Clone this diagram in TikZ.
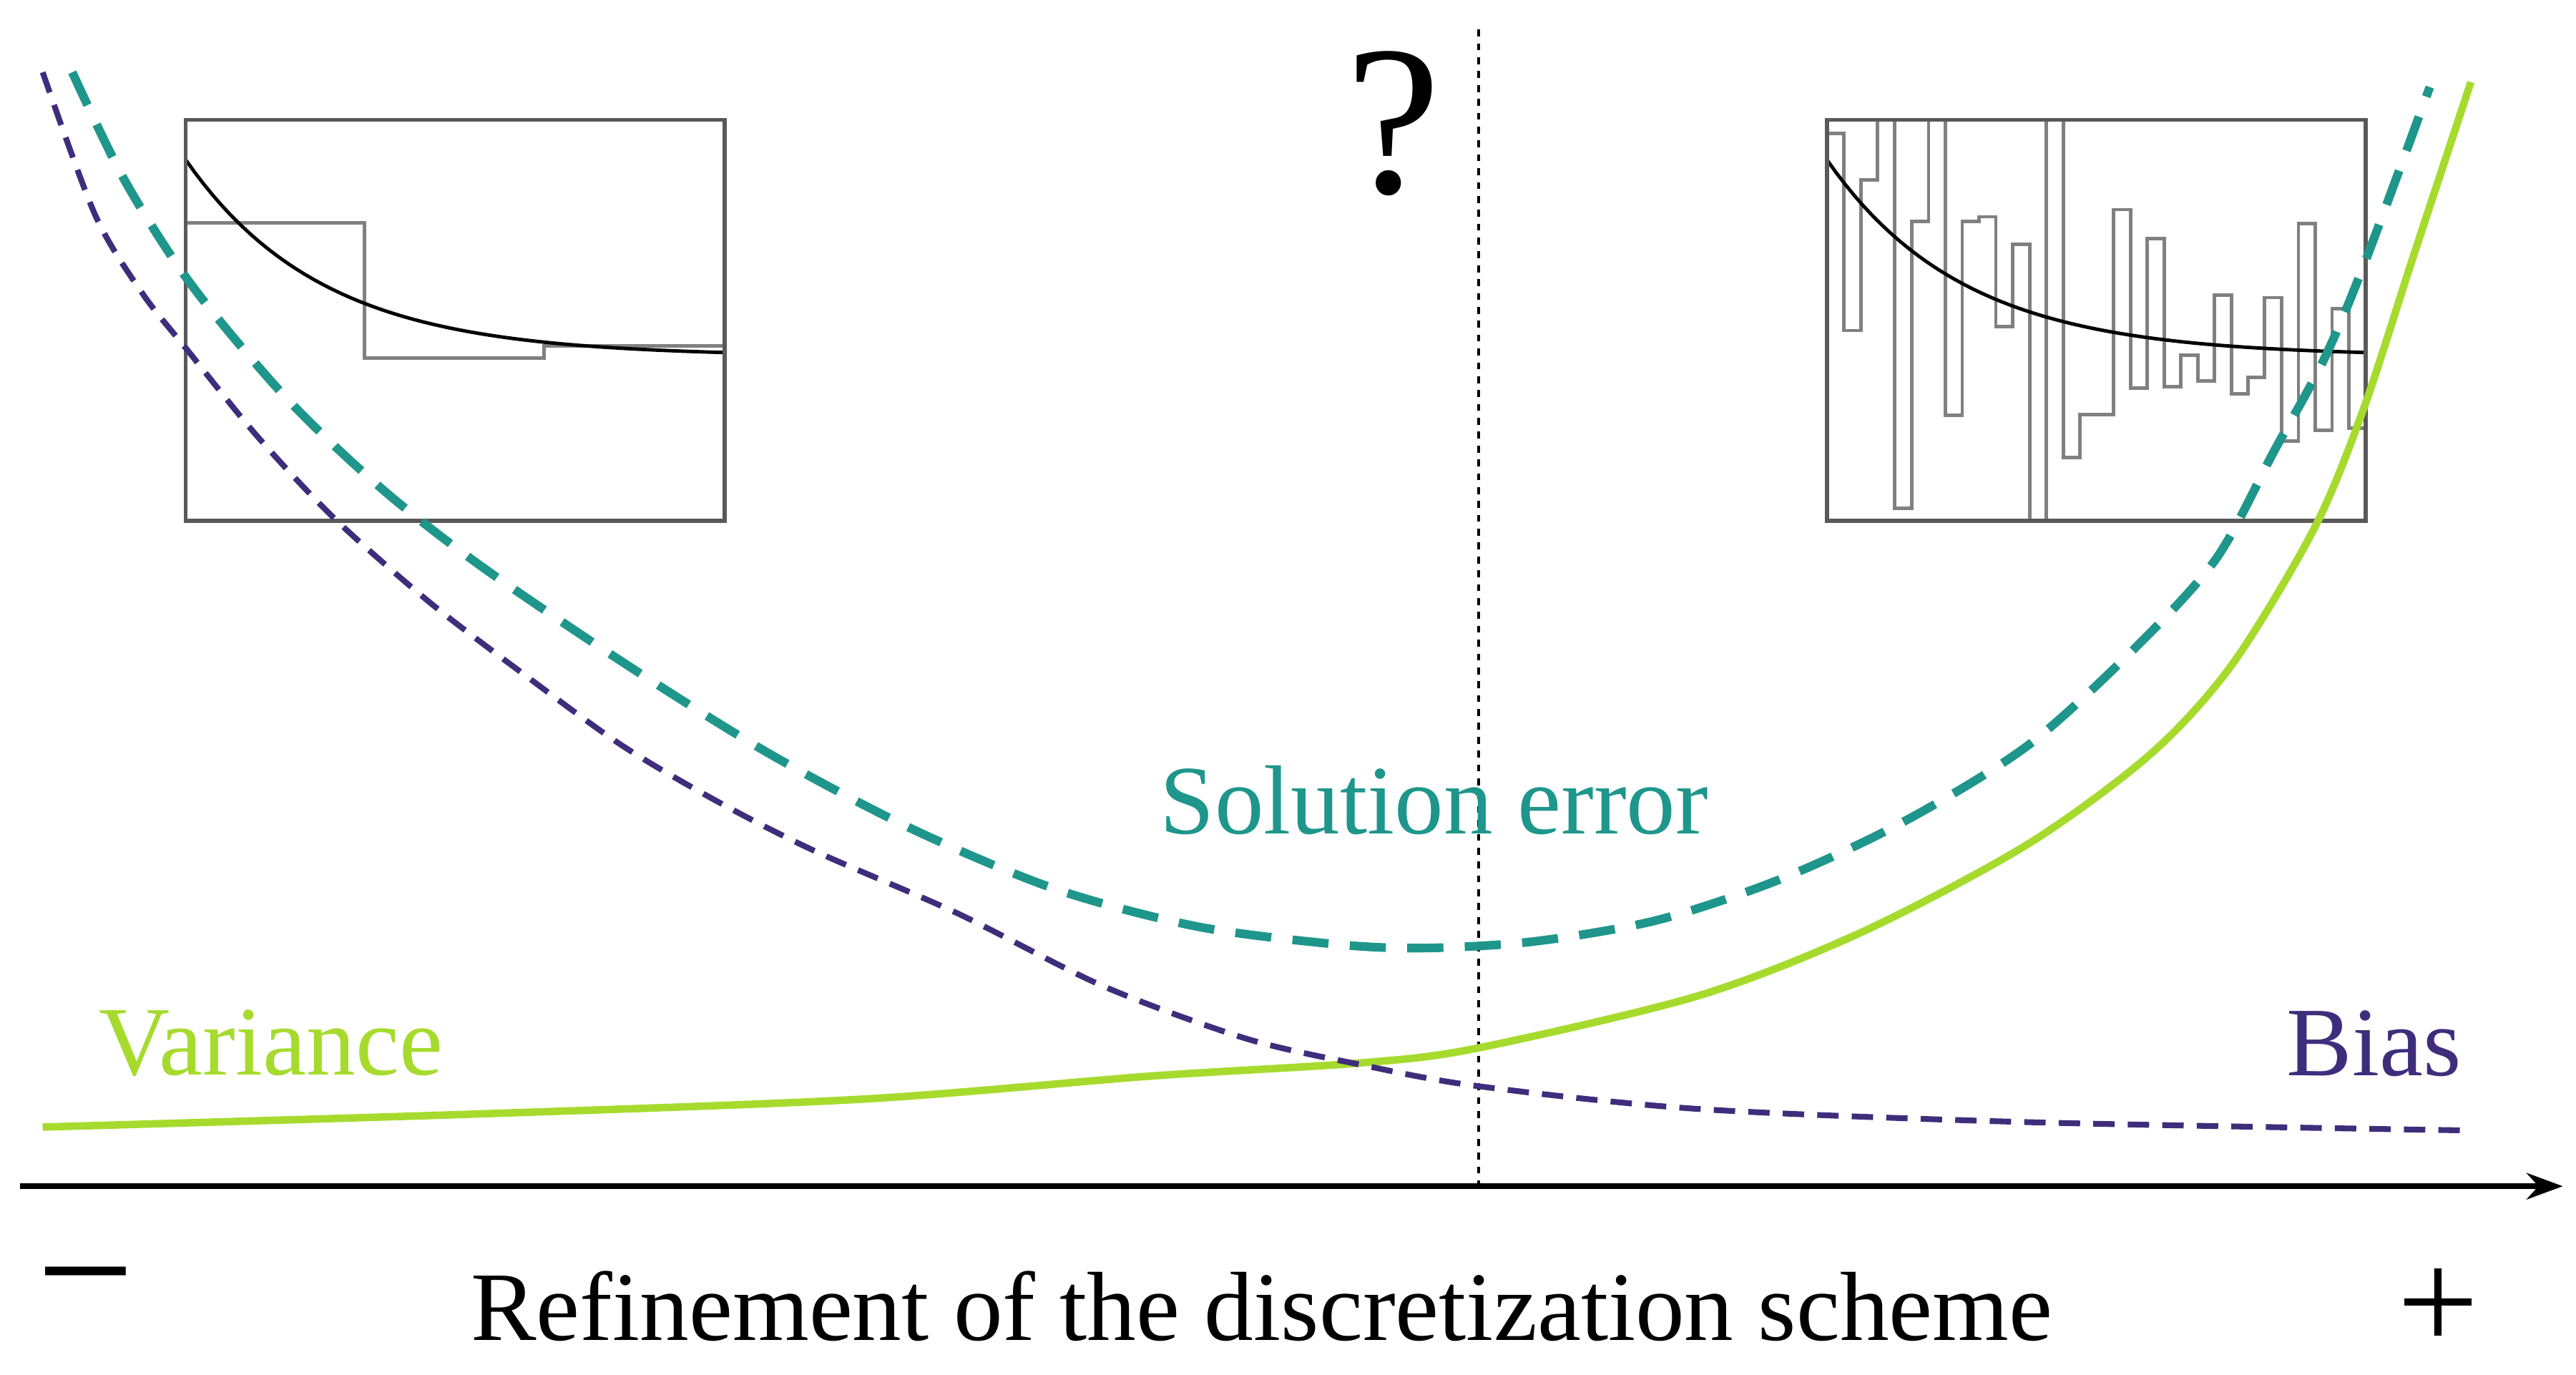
\documentclass[tikz,border=0pt]{standalone}
\usepackage{fontspec}
\setmainfont{Liberation Serif}
\usetikzlibrary{arrows.meta}
\definecolor{cgreen}{HTML}{A6DB2E}
\definecolor{cteal}{HTML}{1F968B}
\definecolor{cpurple}{HTML}{3F2D7C}
\definecolor{cgray}{HTML}{808080}
\begin{document}
\begin{tikzpicture}[x=0.01cm,y=-0.01cm,
  lab/.style={font=\fontsize{17}{20}\selectfont,inner sep=0pt},
  box/.style={draw=black!65,line width=0.7pt},
  stepline/.style={draw=cgray,line width=0.6pt},
  fn/.style={draw=black,line width=0.6pt}]
\useasboundingbox (0,0) rectangle (1568,836.5);
% insets
\begin{scope}[shift={(113,73)},xscale=328/1473,yscale=244/1462,shift={(-27,-50)}]
  \draw[stepline] (27,425) -- (516,425) -- (516,919) -- (1006,919) -- (1006,875) -- (1500,875);
  \draw[fn] plot[domain=27:1500,samples=60] (\x,{912-717*exp(-0.00268*(\x-27))});
  \draw[box] (27,50) rectangle (1500,1512);
\end{scope}
\begin{scope}[shift={(1112,73)},xscale=328/1473,yscale=244/1462,shift={(-27,-50)}]
  \draw[stepline] (27,100) -- (74,100) -- (74,818) -- (120,818) -- (120,268) -- (166,268) -- (166,50) -- (213,50) -- (213,1467) -- (259,1467) -- (259,420) -- (305,420) -- (305,50) -- (351,50) -- (351,1127) -- (397,1127) -- (397,420) -- (443,420) -- (443,403) -- (489,403) -- (489,803) -- (535,803) -- (535,503) -- (581,503) -- (581,1512) -- (627,1512) -- (627,50) -- (673,50) -- (673,1282) -- (718,1282) -- (718,1125) -- (810,1125) -- (810,377) -- (857,377) -- (857,1027) -- (903,1027) -- (903,483) -- (949,483) -- (949,1023) -- (995,1023) -- (995,908) -- (1041,908) -- (1041,1003) -- (1087,1003) -- (1087,689) -- (1133,689) -- (1133,1048) -- (1179,1048) -- (1179,988) -- (1224,988) -- (1224,698) -- (1270,698) -- (1270,1222) -- (1316,1222) -- (1316,428) -- (1362,428) -- (1362,1182) -- (1408,1182) -- (1408,739) -- (1454,739) -- (1454,1175) -- (1500,1175);
  \draw[fn] plot[domain=27:1500,samples=60] (\x,{912-717*exp(-0.00268*(\x-27))});
  \draw[box] (27,50) rectangle (1500,1512);
\end{scope}
% dotted vertical line
\coordinate (vt) at (900,18);
\coordinate (vb) at (900,722);
\draw[line width=0.5pt,dash pattern=on 1.2pt off 1.2pt] (vt) -- (vb);
% curves
\draw[cgreen,line width=1.3pt] plot[smooth] coordinates {(26,686) (292,678) (525,669) (700,655) (828,647) (899,638) (1034,606) (1134,567) (1234,514) (1309,459) (1359,404) (1409,321) (1439,248) (1469,156) (1504,50)};
\draw[cpurple,line width=1pt,dash pattern=on 0.13cm off 0.08cm] plot[smooth] coordinates {(26,44) (58,131) (87,179) (114,213) (157,266) (204,316) (262,367) (321,412) (379,454) (437,488) (496,518) (583,556) (671,600) (758,632) (828,648) (899,661) (1034,675) (1234,683) (1499,688)};
\draw[cteal,line width=1.5pt,dash pattern=on 0.22cm off 0.13cm] plot[smooth] coordinates {(44,44) (76,110) (117,174) (175,243) (233,298) (292,344) (379,403) (467,458) (554,504) (642,541) (729,564) (816,575) (869,577) (934,573) (1009,560) (1084,535) (1159,500) (1234,454) (1299,395) (1349,340) (1384,275) (1414,220) (1439,161) (1479,53)};
% axis
\coordinate (a0) at (12,722);
\coordinate (a1) at (1560,722);
\draw[line width=1pt,-{Stealth[length=0.22cm,width=0.16cm]}] (a0) -- (a1);
% labels
\node[lab,text=cteal] (se) at (873,487) {Solution error};
\node[lab,text=cgreen] (var) at (165,635) {Variance};
\node[lab,text=cpurple] (bias) at (1445,635) {Bias};
\node[font=\fontsize{37}{40}\selectfont,inner sep=0pt] (q) at (848,75) {?};
\node[font=\fontsize{17}{20}\selectfont,inner sep=0pt] (ref) at (768,795) {Refinement of the discretization scheme};
\node[font=\fontsize{30}{32}\selectfont,inner sep=0pt] (mn) at (52,790) {−};
\node[font=\fontsize{25}{28}\selectfont,inner sep=0pt] (pl) at (1484,797) {+};
\end{tikzpicture}
\end{document}
